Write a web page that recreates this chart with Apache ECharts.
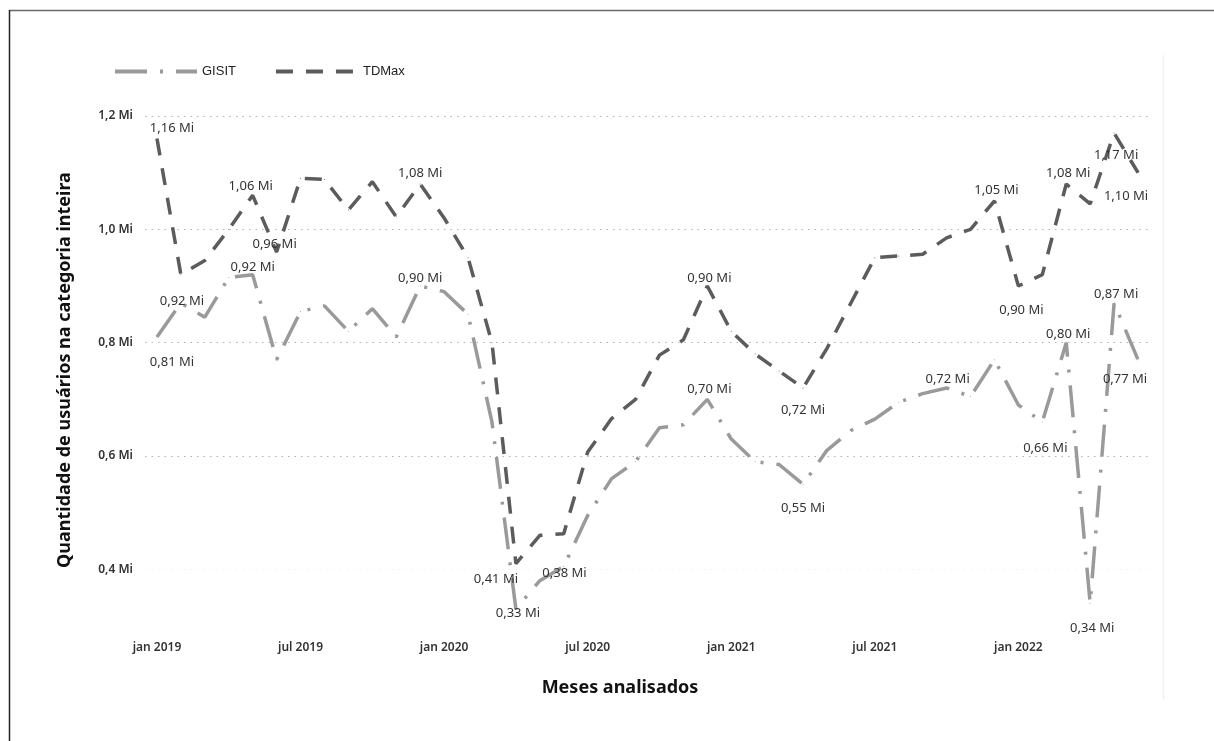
<!DOCTYPE html>
<html>
<head>
<meta charset="utf-8">
<title>GISIT x TDMax</title>
<script src="https://cdn.jsdelivr.net/npm/echarts@6/dist/echarts.min.js"></script>
<style>
  html, body { margin: 0; padding: 0; background: #ffffff; }
  #chart { width: 1214px; height: 741px; }
</style>
</head>
<body>
<div id="chart"></div>
<script>
// Monthly users (millions), jan 2019 .. jun 2022
const monthNames = ['jan', 'fev', 'mar', 'abr', 'mai', 'jun', 'jul', 'ago', 'set', 'out', 'nov', 'dez'];
const years = [2019, 2020, 2021, 2022];
const monthCount = 42;

const gisit = [
  0.81, 0.87, 0.845, 0.915, 0.92, 0.77, 0.855, 0.865, 0.82, 0.86, 0.81, 0.90,
  0.89, 0.85, 0.66, 0.33, 0.38, 0.405, 0.495, 0.56, 0.59, 0.65, 0.655, 0.70,
  0.63, 0.59, 0.585, 0.55, 0.61, 0.645, 0.665, 0.695, 0.71, 0.72, 0.705, 0.77,
  0.69, 0.66, 0.80, 0.34, 0.87, 0.77
];

const tdmax = [
  1.16, 0.92, 0.945, 1.00, 1.06, 0.96, 1.09, 1.088, 1.034, 1.084, 1.022, 1.08,
  1.02, 0.95, 0.80, 0.41, 0.46, 0.463, 0.607, 0.666, 0.70, 0.778, 0.805, 0.90,
  0.82, 0.78, 0.75, 0.72, 0.79, 0.87, 0.95, 0.953, 0.956, 0.985, 1.00, 1.05,
  0.90, 0.92, 1.08, 1.045, 1.17, 1.10
];

const yTicks = [0.4, 0.6, 0.8, 1.0, 1.2];

// Which points carry a value label, and where it sits: [position, dx, dy]
const gisitLabelAt = {
  0: ['bottom', 15, 13], 4: ['top', 0, 5], 11: ['top', 0, 4], 15: ['bottom', 2, -8],
  16: ['right', -3, -7], 23: ['top', 2, 2], 27: ['bottom', 0, 12], 33: ['top', 1, 3],
  37: ['bottom', 3, 14], 38: ['top', 2, 4], 39: ['bottom', 2, 13], 40: ['top', 2, 3],
  41: ['bottom', -13, 8]
};
const tdmaxLabelAt = {
  0: ['top', 15, 2], 1: ['bottom', 1, 15], 4: ['top', -2, 3], 5: ['top', -2, 4],
  11: ['top', 0, 1], 15: ['bottom', -20, 4], 23: ['top', 2, 4], 27: ['bottom', 0, 10],
  35: ['top', 2, 1], 36: ['bottom', 3, 12], 38: ['top', 2, 1], 40: ['bottom', 2, 10],
  41: ['bottom', -12, 12]
};

const categories = [];
for (let i = 0; i < monthCount; i++) {
  categories.push(monthNames[i % 12] + ' ' + years[Math.floor(i / 12)]);
}

const fmtMi = (v, digits) => v.toFixed(digits).replace('.', ',') + ' Mi';

function withLabels(values, placement) {
  return values.map((v, i) => {
    const p = placement[i];
    if (!p) return v;
    return {
      value: v,
      label: { show: true, position: p[0], offset: [p[1], p[2]] }
    };
  });
}

// 0.4 line is barely visible, the others are dotted grey
const gridColors = [
  'rgba(0,0,0,0)', '#f2f2f2', 'rgba(0,0,0,0)', '#b4b4b4', 'rgba(0,0,0,0)',
  '#b4b4b4', 'rgba(0,0,0,0)', '#b4b4b4', 'rgba(0,0,0,0)', '#b4b4b4'
];

const labelStyle = {
  show: false,
  fontFamily: 'Noto Sans',
  fontSize: 13,
  color: '#333333',
  distance: 5,
  formatter: p => fmtMi(p.value, 2)
};

const chart = echarts.init(document.getElementById('chart'), null, { renderer: 'canvas' });

chart.setOption({
  animation: false,
  backgroundColor: '#ffffff',
  grid: { left: 145, right: 64, top: 116, bottom: 115 },
  legend: {
    left: 108,
    top: 60,
    itemWidth: 82,
    itemHeight: 14,
    itemGap: 38,
    itemStyle: { opacity: 0 },
    lineStyle: { width: 4 },
    textStyle: { fontFamily: 'Liberation Sans', fontSize: 13, color: '#222222' },
    data: ['GISIT', 'TDMax']
  },
  xAxis: {
    type: 'category',
    data: categories,
    boundaryGap: true,
    axisLine: { show: false },
    axisTick: { show: false },
    splitLine: { show: false },
    axisLabel: {
      interval: 5,
      margin: 16,
      fontFamily: 'Noto Sans',
      fontWeight: 600,
      fontSize: 12,
      color: '#333333'
    }
  },
  yAxis: {
    type: 'value',
    min: 0.3,
    max: 1.2,
    interval: 0.1,
    axisLine: { show: false },
    axisTick: { show: false },
    axisLabel: {
      margin: 12,
      fontFamily: 'Noto Sans',
      fontWeight: 600,
      fontSize: 12,
      color: '#333333',
      formatter: v => {
        const hit = yTicks.find(t => Math.abs(t - v) < 1e-6);
        return hit === undefined ? '' : fmtMi(hit, 1);
      }
    },
    splitLine: {
      show: true,
      lineStyle: { color: gridColors, width: 1.2, type: [1.5, 5] }
    }
  },
  series: [
    {
      name: 'GISIT',
      type: 'line',
      data: withLabels(gisit, gisitLabelAt),
      symbol: 'circle',
      symbolSize: 1,
      showSymbol: true,
      itemStyle: { color: '#9a9a9a', opacity: 1 },
      lineStyle: { color: '#9a9a9a', width: 3.5, type: [32, 13, 3, 13], cap: 'butt' },
      label: labelStyle,
      z: 2
    },
    {
      name: 'TDMax',
      type: 'line',
      data: withLabels(tdmax, tdmaxLabelAt),
      symbol: 'circle',
      symbolSize: 1,
      showSymbol: true,
      itemStyle: { color: '#5c5c5c', opacity: 1 },
      lineStyle: { color: '#5c5c5c', width: 3.5, type: [17, 13], cap: 'butt' },
      label: labelStyle,
      z: 3
    }
  ],
  graphic: [
    // page frame
    { type: 'line', shape: { x1: 9.5, y1: 10.5, x2: 1214, y2: 10.5 }, style: { stroke: '#6a6a6a', lineWidth: 1.5 }, silent: true },
    { type: 'line', shape: { x1: 9.5, y1: 10, x2: 9.5, y2: 741 }, style: { stroke: '#222222', lineWidth: 1.5 }, silent: true },
    { type: 'line', shape: { x1: 1163.5, y1: 55, x2: 1163.5, y2: 700 }, style: { stroke: '#f1f1f1', lineWidth: 1.5 }, silent: true },
    {
      type: 'text',
      x: 65,
      y: 370,
      rotation: Math.PI / 2,
      style: {
        text: 'Quantidade de usuários na categoria inteira',
        fontFamily: 'Noto Sans',
        fontWeight: 'bold',
        fontSize: 18,
        fill: '#111111',
        align: 'center',
        verticalAlign: 'middle'
      },
      silent: true
    },
    {
      type: 'text',
      x: 620,
      y: 688,
      style: {
        text: 'Meses analisados',
        fontFamily: 'Noto Sans',
        fontWeight: 'bold',
        fontSize: 18,
        fill: '#111111',
        align: 'center',
        verticalAlign: 'middle'
      },
      silent: true
    }
  ]
});
</script>
</body>
</html>
